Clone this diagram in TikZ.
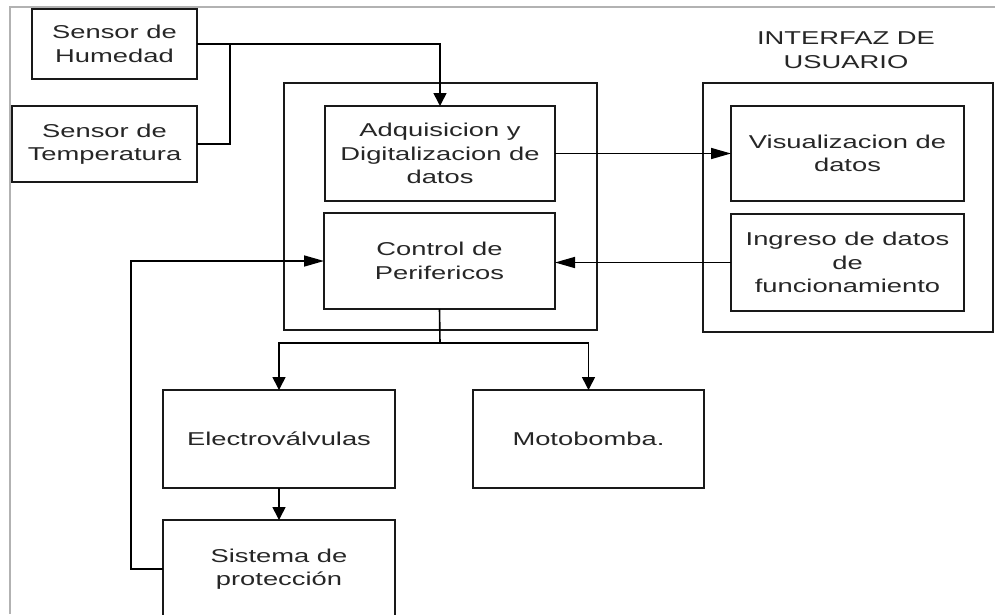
\documentclass[tikz,border=0pt]{standalone}
\usepackage{fontspec}
\setmainfont{Liberation Sans}[FakeStretch=1.47]
\usetikzlibrary{arrows.meta}
\begin{document}
\begin{tikzpicture}[x=1pt,y=-1pt,
  every node/.style={font=\fontsize{18.6}{23.5}\selectfont, text=black!85, align=center},
  blk/.style={draw=black!90, line width=1.8pt, inner sep=0pt, outer sep=0pt},
  frame/.style={draw=black!90, line width=1.8pt, inner sep=0pt, outer sep=0pt},
  wire/.style={draw=black, line width=1.6pt},
  harr/.style={wire, -{Triangle[length=20pt,width=11pt]}},
  varr/.style={wire, -{Triangle[length=13pt,width=13pt]}}]
\useasboundingbox (0,0) rectangle (995,614);
\clip (0,0) rectangle (995,614);

% light page frame along the top and left
\draw[black!30, line width=1.5pt] (10,614) -- (10,7) -- (995,7);

% sensors
\node[blk, minimum width=165pt, minimum height=70pt] (hum) at (114.5,44) {Sensor de\\Humedad};
\node[blk, minimum width=185pt, minimum height=76pt] (temp) at (104.5,144) {Sensor de\\Temperatura};

% processing unit
\node[frame, minimum width=313pt, minimum height=247pt] (proc) at (440.5,206.5) {};
\node[blk, minimum width=230pt, minimum height=95pt] (adq) at (440,153.5) {Adquisicion y\\Digitalizacion de\\datos};
\node[blk, minimum width=231pt, minimum height=96pt] (ctrl) at (439.5,261) {Control de\\Perifericos};

% user interface
\node (uilabel) at (846,50) {INTERFAZ DE\\USUARIO};
\node[frame, minimum width=290pt, minimum height=249pt] (ui) at (848,207.5) {};
\node[blk, minimum width=233pt, minimum height=95pt] (vis) at (847.5,153.5) {Visualizacion de\\datos};
\node[blk, minimum width=233pt, minimum height=97pt] (ing) at (847.5,262.5) {Ingreso de datos\\de\\funcionamiento};

% actuators
\node[blk, minimum width=232pt, minimum height=98pt] (elec) at (279,439) {Electroválvulas};
\node[blk, minimum width=231pt, minimum height=98pt] (moto) at (588.5,439) {Motobomba.};
\node[blk, minimum width=232pt, minimum height=98pt] (sis) at (279,569) {Sistema de\\protección};

% routing points
\coordinate (tj) at (230,44);
\coordinate (split) at (440,343);
\coordinate (fb) at (131,0);

% connectors
\draw[varr] (hum.east) -| (adq.north);
\draw[wire] (temp.east) -| (tj);
\draw[harr] (adq.east) -- (vis.west);
\draw[harr] (ing.west) -- (ing.west -| ctrl.east);
\draw[wire] (ctrl.south) -- (split);
\draw[varr] (split) -| (elec.north);
\draw[varr] (split) -| (moto.north);
\draw[varr] (elec.south) -- (sis.north);
\draw[harr] (sis.west) -- (sis.west -| fb) |- (ctrl.west);
\end{tikzpicture}
\end{document}
